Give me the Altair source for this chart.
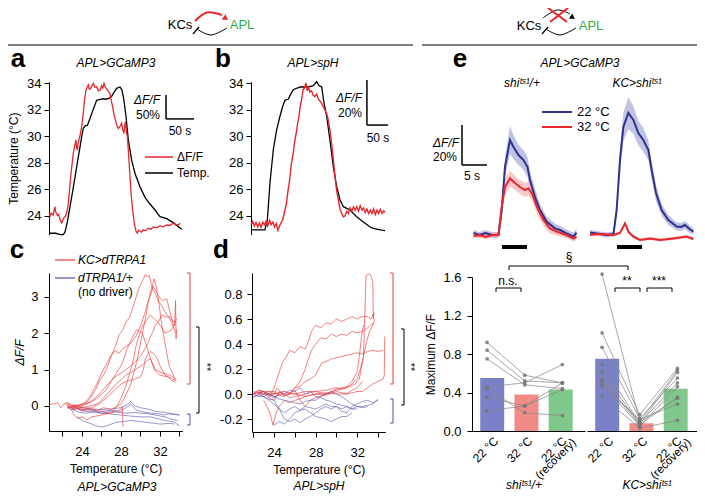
import altair as alt
import pandas as pd

FONT = "Liberation Sans"
RED = "#E8262B"
NAVY = "#2E3192"
TRACE_RED = "#F03C3C"
TRACE_BLUE = "#5353B3"
APL_GREEN = "#2DB04B"
BAR_COLORS = ["#7B81C6", "#F08B86", "#7FC78B"]

# ================= DATA =================
# panel a: time (s) -> temperature (°C) and APL>GCaMP3 ΔF/F
a_temp = [(0, 22.7), (12, 22.7), (20, 22.6), (25.6, 22.6), (28.6, 22.8), (33, 23.6), (37.5, 24.7), (42, 25.8),
          (46.4, 26.9), (51, 28.1), (55.4, 29.2), (58.5, 30.0), (61.3, 30.6), (65, 30.8), (68.5, 30.8), (72, 31.2),
          (76.2, 31.7), (80.5, 32.2), (85.1, 32.7), (95, 32.8), (103, 32.8), (107, 32.85), (111.9, 33.0),
          (116, 33.3), (120.8, 33.6), (126.8, 33.7), (130, 33.5), (132.7, 33.0), (135, 32.3), (137.5, 31.5),
          (141.7, 29.7), (147.6, 28.2), (153.6, 27.2), (162.5, 26.2), (171.4, 25.4), (180.4, 24.9),
          (189.3, 24.45), (198.2, 23.95), (210.1, 23.8), (222, 23.5), (233.9, 23.1), (236.9, 23.0)]
a_dff = [(0, 0.49), (2, 0.44), (4, 0.5), (6, 0.47), (7.7, 0.46), (9, 0.55), (10.7, 0.63), (12, 0.52), (13.7, 0.49),
         (15, 0.45), (17, 0.47), (18.5, 0.42), (20, 0.36), (22.6, 0.29), (24.5, 0.35), (26.8, 0.40), (29, 0.42),
         (31.5, 0.50), (33, 0.58), (34.5, 0.71), (36.5, 0.95), (38.7, 1.26), (41, 1.5), (43.5, 1.75), (46, 1.9),
         (48.2, 2.02), (49.5, 1.85), (50.6, 1.81), (52, 1.95), (54.2, 2.06), (56, 2.15), (58.3, 2.30), (60.5, 2.5),
         (62.5, 2.75), (64, 2.9), (66.1, 3.06), (68, 3.12), (70.2, 3.17), (72, 3.08), (74.4, 3.10), (76.5, 3.15),
         (79.2, 3.20), (82, 3.12), (85.1, 3.13), (88, 3.05), (91.1, 3.06), (94, 3.15), (96, 3.1), (98.2, 3.20),
         (100.5, 3.12), (103, 3.08), (106, 3.03), (108.9, 2.99), (111, 2.85), (113.7, 2.71), (116, 2.55),
         (117.9, 2.47), (120.5, 2.35), (123.8, 2.26), (126.5, 2.30), (129.8, 2.37), (131.5, 2.25), (133.9, 2.16),
         (135, 2.30), (136.3, 2.40), (138, 2.2), (139.9, 2.09), (142, 1.75), (144.6, 1.26), (147, 0.85),
         (149.4, 0.56), (151.5, 0.35), (153.6, 0.21), (155.5, 0.12), (157.7, 0.08), (160, 0.14), (162.5, 0.12),
         (165, 0.1), (168.5, 0.15), (172, 0.13), (177.4, 0.18), (182, 0.16), (186.3, 0.21), (192, 0.19),
         (198.2, 0.23), (204, 0.21), (210.1, 0.25), (216, 0.24), (222, 0.29), (226, 0.26), (231, 0.25),
         (233.9, 0.29)]

# panel b: time (s) -> temperature (°C) and APL>spH ΔF/F
b_temp = [(0, 22.95), (20, 22.95), (33, 22.95), (38.9, 23.7), (45.2, 26.5), (53.2, 29.0), (61.1, 30.5), (69, 31.5),
          (75, 32.2), (81, 32.7), (88.9, 32.8), (95, 33.2), (100.8, 33.5), (116.7, 33.7), (135, 33.7),
          (148.4, 33.8), (156.3, 34.1), (162, 33.8), (168.3, 33.7), (173.8, 32.5), (180.2, 31.5), (188, 29.7),
          (196, 27.7), (204, 26.2), (212, 25.2), (220, 24.7), (235.7, 24.45), (251.6, 23.95), (271.4, 23.45),
          (287.3, 23.1), (307, 22.95), (319, 22.9)]
b_dff = [(0, 0.05), (4, 0.065), (8, 0.045), (12, 0.06), (16, 0.04), (20, 0.058), (24, 0.038), (28, 0.062),
         (32, 0.05), (36, 0.066), (40, 0.045), (44, 0.07), (48, 0.05), (52, 0.062), (56, 0.04), (60, 0.055),
         (64, 0.025), (68, 0.045), (72, 0.06), (76, 0.075), (80, 0.11), (84, 0.14), (88, 0.2), (92, 0.25),
         (96, 0.32), (100, 0.36), (104, 0.42), (108, 0.46), (111, 0.5), (114, 0.53), (117, 0.575), (120, 0.6),
         (124, 0.65), (128, 0.66), (131, 0.68), (134, 0.645), (137, 0.665), (140, 0.64), (144, 0.645),
         (148, 0.625), (152, 0.62), (156, 0.63), (160, 0.61), (164, 0.6), (168, 0.59), (172, 0.575),
         (176, 0.56), (180, 0.545), (184, 0.515), (188, 0.47), (192, 0.41), (196, 0.34), (200, 0.265),
         (204, 0.2), (208, 0.16), (212, 0.12), (216, 0.1), (220, 0.085), (224, 0.09), (228, 0.11), (232, 0.1),
         (236, 0.125), (240, 0.11), (244, 0.13), (248, 0.115), (252, 0.13), (256, 0.11), (260, 0.135),
         (264, 0.115), (268, 0.125), (272, 0.105), (276, 0.12), (280, 0.1), (284, 0.115), (288, 0.1),
         (292, 0.12), (296, 0.095), (300, 0.115), (304, 0.1), (308, 0.118), (312, 0.1), (316, 0.112),
         (319, 0.105)]

# panel c: temperature (°C) -> ΔF/F, APL>GCaMP3
c_red_1 = [(22.5, 0.0), (23.0, -0.06), (23.5, 0.02), (24.0, 0.05), (24.5, 0.1), (25.0, 0.28), (25.4, 0.45),
           (25.8, 0.7), (26.2, 0.85), (26.5, 1.0), (26.9, 1.3), (27.2, 1.5), (27.5, 1.7), (27.8, 1.95),
           (28.2, 2.1), (28.5, 2.3), (28.9, 2.45), (29.2, 2.7), (29.5, 2.95), (29.8, 3.2), (30.1, 3.4),
           (30.3, 3.5), (30.5, 3.62), (30.7, 3.55), (30.9, 3.6), (31.1, 3.35), (31.3, 3.2), (31.6, 3.05),
           (31.8, 2.9), (32.2, 2.75), (32.5, 2.6), (32.9, 2.45), (33.2, 2.3), (33.6, 2.0)]
c_red_2 = [(22.3, 0.05), (22.8, -0.04), (23.3, 0.0), (23.8, -0.06), (24.2, 0.08), (24.7, 0.2), (25.1, 0.4),
           (25.6, 0.65), (26.0, 0.9), (26.5, 1.15), (27.0, 1.4), (27.4, 1.52), (27.8, 1.45), (28.3, 1.6),
           (28.9, 1.7), (29.5, 1.9), (30.0, 2.2), (30.5, 2.6), (30.8, 2.9), (31.1, 3.1), (31.3, 3.3),
           (31.6, 3.15), (31.9, 3.0), (32.3, 2.9), (32.7, 2.95), (33.0, 2.6), (33.3, 2.3), (33.5, 2.2),
           (33.6, 2.9), (33.65, 1.85), (33.7, 2.1)]
c_red_3 = [(22.5, -0.05), (23.2, 0.03), (24.0, 0.0), (24.6, 0.08), (25.0, 0.15), (25.5, 0.25), (26.0, 0.4),
           (26.5, 0.55), (27.0, 0.7), (27.5, 0.82), (28.0, 0.9), (28.5, 1.0), (29.0, 1.1), (29.4, 1.2),
           (29.8, 1.3), (30.2, 1.45), (30.5, 1.6), (30.8, 1.75), (31.0, 1.9), (31.3, 2.05), (31.5, 2.2),
           (31.9, 2.35), (32.2, 2.5), (32.6, 2.45), (33.0, 2.45), (33.3, 2.35), (33.6, 2.3)]
c_red_4 = [(22.5, 0.0), (23.2, -0.08), (24.0, -0.05), (24.8, 0.0), (25.5, 0.05), (26.0, 0.15), (26.5, 0.3),
           (27.0, 0.45), (27.5, 0.6), (28.0, 0.72), (28.5, 0.85), (29.0, 0.92), (29.5, 1.0), (29.9, 1.08),
           (30.3, 1.15), (30.7, 1.25), (31.0, 1.3), (31.3, 1.15), (31.5, 1.0), (31.9, 0.95), (32.3, 0.9),
           (32.7, 0.88), (33.0, 0.85), (33.3, 0.8), (33.6, 0.75)]
c_red_5 = [(22.8, -0.1), (23.4, -0.05), (24.0, -0.15), (24.8, -0.08), (25.5, -0.12), (26.2, -0.05),
           (27.0, -0.1), (27.6, 0.0), (28.0, 0.05), (28.5, 0.3), (29.0, 0.6), (29.3, 0.9), (29.6, 1.2),
           (29.9, 1.6), (30.2, 2.0), (30.5, 2.4), (30.7, 2.7), (30.9, 3.0), (31.1, 3.2), (31.4, 3.5),
           (31.6, 3.3), (31.8, 3.0), (32.0, 2.6), (32.2, 2.2), (32.5, 1.75), (32.8, 1.3), (33.0, 1.05),
           (33.3, 0.9), (33.6, 0.7)]
c_red_6 = [(22.5, 0.05), (23.0, -0.02), (23.5, 0.0), (24.2, -0.06), (25.0, -0.05), (25.5, 0.02), (26.0, 0.1),
           (26.5, 0.22), (27.0, 0.35), (27.5, 0.48), (28.0, 0.6), (28.4, 0.66), (28.8, 0.7), (29.2, 0.72),
           (29.5, 0.75), (30.0, 0.8), (30.3, 1.0), (30.5, 1.3), (30.8, 1.45), (31.0, 1.5), (31.3, 1.45),
           (31.5, 1.4), (31.8, 1.25), (32.0, 1.1), (32.3, 0.95), (32.5, 0.85), (32.9, 0.8), (33.2, 0.75),
           (33.5, 0.72), (33.7, 0.7)]
c_red_7 = [(20.6, 0.0), (20.9, 0.06), (21.2, 0.05), (21.5, 0.1), (21.8, -0.05), (22.2, 0.06), (22.5, 0.08),
           (23.0, 0.0), (23.5, -0.05), (24.0, -0.1), (24.5, -0.08), (25.0, -0.1), (25.5, -0.14), (26.0, -0.15),
           (26.5, -0.18), (27.0, -0.2), (27.5, -0.05), (28.0, 0.2), (28.5, 0.55), (29.0, 1.0), (29.3, 1.3),
           (29.5, 1.6), (29.8, 1.9), (30.2, 2.2), (30.6, 2.35), (31.0, 2.5), (31.4, 2.4), (31.8, 2.3),
           (32.2, 2.15), (32.5, 2.0), (32.9, 2.05), (33.2, 2.1), (33.5, 2.25), (33.7, 2.4)]
c_red_8 = [(22.8, -0.05), (23.2, -0.25), (23.6, -0.35), (24.0, -0.3), (24.5, -0.38), (25.0, -0.3),
           (25.5, -0.28), (26.0, -0.25), (26.5, -0.22), (27.0, -0.2), (27.5, -0.15), (28.0, -0.1),
           (28.15, -0.02), (28.2, -0.58)]
c_red_9 = [(22.4, 0.1), (22.9, 0.02), (23.5, 0.0), (24.0, 0.06), (24.5, 0.05), (25.0, 0.12), (25.5, 0.2),
           (26.0, 0.32), (26.5, 0.45), (27.0, 0.68), (27.5, 0.9), (28.0, 1.1), (28.3, 1.3), (28.6, 1.55),
           (29.0, 1.8), (29.3, 1.95), (29.6, 2.1), (29.9, 2.05), (30.2, 2.0), (30.5, 1.75), (30.8, 1.5),
           (31.1, 1.25), (31.4, 1.0), (31.7, 0.92), (32.0, 0.85), (32.4, 0.82), (32.8, 0.8), (33.2, 0.7),
           (33.6, 0.65)]
c_blue_1 = [(22.5, -0.05), (23.0, -0.1), (23.5, -0.08), (24.0, -0.1), (25.0, -0.12), (26.0, -0.15),
            (27.0, -0.12), (28.0, -0.15), (28.5, -0.05), (29.0, 0.05), (29.5, -0.1), (30.0, -0.15),
            (31.0, -0.2), (32.0, -0.22), (32.5, -0.25), (33.0, -0.22), (34.0, -0.25)]
c_blue_2 = [(23.0, -0.1), (23.8, -0.18), (24.5, -0.2), (25.2, -0.15), (26.0, -0.2), (27.0, -0.22),
            (28.0, -0.25), (29.0, -0.28), (30.0, -0.3), (31.0, -0.3), (31.8, -0.35), (32.5, -0.4),
            (33.0, -0.42), (33.5, -0.45), (34.0, -0.55)]
c_blue_3 = [(23.5, -0.3), (24.0, -0.4), (24.5, -0.45), (25.0, -0.5), (25.5, -0.55), (26.0, -0.58),
            (26.5, -0.55), (27.0, -0.5), (27.5, -0.45), (28.5, -0.42), (29.0, -0.4), (30.0, -0.43),
            (30.5, -0.45), (31.5, -0.48), (32.0, -0.5), (33.0, -0.48), (33.5, -0.5)]
c_blue_4 = [(22.5, -0.05), (23.5, -0.02), (24.0, -0.05), (25.0, -0.08), (26.0, -0.1), (27.0, -0.08),
            (28.0, -0.05), (28.7, 0.05), (29.0, 0.12), (29.4, 0.0), (30.0, -0.05), (31.0, -0.1),
            (31.5, -0.15), (32.5, -0.18), (33.0, -0.2), (34.0, -0.25)]
c_blue_5 = [(23.0, 0.0), (23.7, -0.1), (24.5, -0.15), (25.3, -0.18), (26.0, -0.2), (27.0, -0.15),
            (27.8, -0.18), (28.5, -0.2), (29.5, -0.18), (30.0, -0.2), (31.0, -0.22), (31.5, -0.25),
            (32.5, -0.3), (33.0, -0.35), (33.8, -0.4)]

# panel d: temperature (°C) -> ΔF/F, APL>spH
d_red_1 = [(22.0, 0.0), (22.5, 0.03), (23.0, 0.02), (23.5, -0.03), (24.0, -0.05), (24.5, 0.02), (25.0, 0.0),
           (25.5, -0.03), (26.0, -0.02), (27.0, 0.0), (28.0, 0.02), (29.0, 0.0), (30.0, 0.03), (31.0, 0.05),
           (31.8, 0.08), (32.2, 0.12), (32.6, 0.3), (32.75, 0.7), (32.85, 0.95), (33.1, 0.96), (33.3, 0.95),
           (33.5, 0.9), (33.55, 0.6), (33.6, 0.65)]
d_red_2 = [(22.0, 0.0), (22.5, 0.03), (23.0, 0.02), (23.6, -0.02), (24.0, 0.05), (24.4, 0.15), (24.8, 0.25),
           (25.2, 0.3), (25.5, 0.35), (26.0, 0.33), (26.5, 0.38), (27.0, 0.36), (27.3, 0.42), (27.6, 0.5),
           (28.0, 0.55), (28.5, 0.53), (29.0, 0.57), (29.5, 0.56), (30.0, 0.6), (30.5, 0.58), (31.0, 0.6),
           (31.5, 0.62), (32.0, 0.6), (32.5, 0.62), (33.0, 0.62), (33.3, 0.6), (33.6, 0.65)]
d_red_3 = [(22.0, 0.0), (23.0, 0.02), (24.0, 0.02), (24.8, -0.02), (25.5, 0.0), (26.0, 0.05), (26.5, 0.1),
           (27.0, 0.2), (27.3, 0.28), (27.6, 0.35), (28.0, 0.4), (28.5, 0.45), (29.0, 0.44), (29.5, 0.48),
           (30.0, 0.46), (30.5, 0.48), (31.0, 0.47), (31.5, 0.5), (32.0, 0.49), (32.5, 0.5), (33.0, 0.53),
           (33.3, 0.55), (33.6, 0.57)]
d_red_4 = [(22.0, -0.02), (23.0, 0.0), (24.0, 0.0), (25.0, 0.02), (25.5, 0.0), (26.0, 0.05), (26.5, 0.06),
           (27.0, 0.1), (27.5, 0.12), (28.0, 0.15), (28.3, 0.2), (28.6, 0.25), (29.0, 0.26), (29.5, 0.28),
           (30.0, 0.29), (30.5, 0.3), (31.0, 0.31), (31.5, 0.32), (32.0, 0.33), (32.5, 0.32), (33.0, 0.34),
           (33.5, 0.35), (34.0, 0.34), (34.5, 0.35)]
d_red_5 = [(22.0, 0.0), (23.0, 0.02), (24.0, -0.02), (25.0, 0.0), (26.0, 0.0), (27.0, 0.02), (28.0, 0.02),
           (29.0, 0.03), (30.0, 0.05), (30.5, 0.04), (31.0, 0.05), (31.5, 0.08), (32.0, 0.12), (32.3, 0.2),
           (32.6, 0.3), (32.9, 0.42), (33.2, 0.5), (33.5, 0.55), (33.7, 0.6)]
d_red_6 = [(22.0, 0.02), (23.0, 0.0), (24.0, 0.0), (25.0, 0.02), (26.0, 0.0), (27.0, -0.02), (28.0, 0.0),
           (29.0, 0.01), (30.0, 0.0), (31.0, 0.0), (31.5, 0.01), (32.0, 0.02), (32.5, 0.02), (33.0, 0.05),
           (33.5, 0.08), (34.0, 0.1), (34.5, 0.12), (34.6, 0.15), (34.65, 0.46)]
d_red_7 = [(23.0, -0.05), (23.3, -0.1), (23.6, -0.15), (23.9, -0.25), (24.2, -0.15), (24.5, -0.1),
           (25.0, -0.05), (25.5, -0.07), (26.0, -0.05), (26.5, -0.04), (27.0, -0.02), (28.0, 0.0),
           (29.0, -0.01), (30.0, 0.02), (31.0, 0.0), (31.5, 0.03), (32.0, 0.05), (32.5, 0.1)]
d_red_8 = [(22.5, 0.02), (23.0, 0.0), (23.5, 0.02), (24.0, 0.0), (24.3, 0.05), (25.0, -0.02), (26.0, 0.03),
           (26.5, -0.05), (27.0, -0.1), (27.5, -0.05), (28.0, -0.03), (29.0, 0.0), (30.0, 0.04),
           (31.0, 0.06), (31.5, 0.1), (32.0, 0.18), (32.2, 0.3), (32.4, 0.45), (32.6, 0.55)]
d_blue_1 = [(22.0, 0.0), (22.5, -0.02), (23.0, -0.02), (23.5, -0.04), (24.0, -0.05), (24.5, -0.12),
            (25.0, -0.2), (25.5, -0.22), (26.0, -0.2), (26.5, -0.23), (27.0, -0.2), (27.5, -0.18),
            (28.0, -0.15), (28.5, -0.12), (29.0, -0.1), (29.5, -0.12), (30.0, -0.1), (30.5, -0.14),
            (31.0, -0.15), (31.5, -0.1), (32.0, -0.08), (32.5, -0.06), (33.0, -0.05), (33.5, -0.07),
            (34.0, -0.05)]
d_blue_2 = [(22.5, 0.0), (23.0, 0.02), (23.5, -0.01), (24.0, -0.03), (24.5, 0.0), (25.0, 0.0), (25.5, 0.03),
            (26.0, 0.02), (26.5, 0.05), (27.0, 0.0), (27.5, 0.02), (28.0, -0.02), (28.5, -0.03),
            (29.0, -0.05), (29.5, -0.06), (30.0, -0.08), (30.5, -0.09), (31.0, -0.1), (31.5, -0.12),
            (32.0, -0.1), (32.5, -0.11), (33.0, -0.1)]
d_blue_3 = [(23.0, -0.02), (23.5, -0.05), (24.0, -0.08), (24.5, -0.12), (25.0, -0.15), (25.5, -0.12),
            (26.0, -0.1), (26.5, -0.13), (27.0, -0.12), (27.5, -0.15), (28.0, -0.18), (28.5, -0.19),
            (29.0, -0.2), (29.5, -0.22), (30.0, -0.2), (30.5, -0.18), (31.0, -0.18), (31.5, -0.15)]
d_blue_4 = [(22.0, -0.03), (22.5, 0.0), (23.0, -0.02), (23.5, 0.0), (24.0, -0.02), (24.5, -0.04),
            (25.0, -0.05), (25.5, -0.06), (26.0, -0.07), (26.5, -0.08), (27.0, -0.06), (27.5, -0.05),
            (28.0, -0.05), (28.5, -0.02), (29.0, 0.0), (29.5, 0.02), (30.0, 0.0), (30.5, -0.02),
            (31.0, -0.05), (31.5, -0.08), (32.0, -0.1), (32.5, -0.1), (33.0, -0.09), (33.5, -0.08),
            (34.0, -0.04)]
d_blue_5 = [(24.0, -0.25), (24.5, -0.22), (25.0, -0.24), (25.5, -0.2), (26.0, -0.15), (26.5, -0.13),
            (27.0, -0.1), (27.5, -0.11), (28.0, -0.12), (28.5, -0.1), (29.0, -0.08), (29.5, -0.1),
            (30.0, -0.1), (30.5, -0.12), (31.0, -0.1), (31.5, -0.12), (32.0, -0.12)]

# panel e traces: time from odour onset (s), mean ΔF/F, s.e.m.
e_shi_22 = [(-5.7, 0.01, 0.015), (-4.5, 0.0, 0.015), (-3.3, 0.01, 0.015), (-2.0, 0.0, 0.015), (-0.7, 0.0, 0.015),
            (-0.07, 0.12, 0.03), (0.6, 0.34, 0.05), (1.6, 0.475, 0.07), (2.3, 0.44, 0.06), (3.3, 0.40, 0.05),
            (4.3, 0.375, 0.05), (5.1, 0.34, 0.05), (5.6, 0.275, 0.045), (6.6, 0.19, 0.04), (7.6, 0.125, 0.03),
            (8.9, 0.067, 0.025), (10.6, 0.033, 0.025), (11.6, 0.025, 0.02), (12.9, 0.008, 0.02),
            (14.3, -0.008, 0.02), (14.9, 0.012, 0.02)]
e_shi_32 = [(-5.7, -0.005, 0.012), (-4.5, 0.0, 0.012), (-3.3, -0.01, 0.012), (-2.0, 0.0, 0.012),
            (-0.7, 0.0, 0.012), (-0.07, 0.14, 0.03), (0.6, 0.24, 0.04), (1.6, 0.283, 0.04), (2.6, 0.26, 0.035),
            (3.6, 0.24, 0.035), (4.6, 0.225, 0.035), (5.3, 0.233, 0.035), (6.0, 0.208, 0.035), (7.0, 0.14, 0.035),
            (8.3, 0.075, 0.03), (9.6, 0.033, 0.025), (11.0, 0.017, 0.02), (12.9, 0.0, 0.015),
            (14.3, -0.017, 0.015), (14.9, -0.01, 0.015)]
e_kc_22 = [(-5.4, 0.012, 0.012), (-4.0, 0.008, 0.012), (-2.1, 0.0, 0.012), (-0.7, 0.005, 0.012),
           (-0.07, 0.125, 0.03), (0.6, 0.375, 0.06), (1.27, 0.54, 0.07), (2.27, 0.61, 0.08), (3.27, 0.575, 0.07),
           (4.27, 0.51, 0.06), (5.27, 0.475, 0.06), (6.27, 0.425, 0.05), (6.93, 0.325, 0.045), (7.8, 0.21, 0.04),
           (8.93, 0.125, 0.03), (10.27, 0.075, 0.025), (11.93, 0.042, 0.02), (12.8, 0.04, 0.02),
           (13.6, 0.05, 0.02), (14.5, 0.03, 0.02), (15.27, 0.017, 0.015)]
e_kc_32 = [(-5.4, 0.0, 0.008), (-4.0, 0.005, 0.008), (-2.1, 0.002, 0.008), (-0.7, 0.0, 0.008), (0.6, 0.01, 0.008),
           (1.6, 0.058, 0.01), (2.27, 0.017, 0.008), (3.27, -0.008, 0.008), (4.6, -0.025, 0.008),
           (6.6, -0.017, 0.008), (8.6, -0.025, 0.008), (11.27, -0.017, 0.008), (13.93, -0.008, 0.008),
           (15.27, -0.02, 0.008)]

# panel e bars: maximum ΔF/F
conditions = ["22", "32", "rec"]
condition_labels = ["22 °C", "32 °C", "22 °C"]
shi_means = [0.55, 0.38, 0.43]
kc_means = [0.75, 0.08, 0.44]
shi_flies = [[0.92, 0.58, 0.50], [0.84, 0.52, 0.50], [0.75, 0.48, 0.44], [0.46, 0.50, 0.69],
             [0.44, 0.19, 0.16], [0.35, 0.26, 0.43], [0.21, 0.26, 0.50]]
kc_flies = [[1.63, 0.10, 0.63], [1.02, 0.17, 0.65], [0.87, 0.13, 0.55], [0.69, 0.08, 0.50], [0.61, 0.07, 0.61],
            [0.54, 0.06, 0.35], [0.52, 0.09, 0.34], [0.49, 0.05, 0.46], [0.47, 0.12, 0.28], [0.36, 0.03, 0.11]]

# scale-bar sizes (data units)
a_bar_s, a_bar_dff = 50, 0.5
b_bar_s, b_bar_dff = 50, 0.2
e_bar_s, e_bar_dff = 5, 0.2


# ================= helpers =================
def sc(d0, d1, p0, p1):
    """linear scale, domain -> page pixel positions (page has an 8px margin)"""
    return alt.Scale(domain=[d0, d1], range=[p0 - 8, p1 - 8], zero=False, nice=False)


def band(p0, p1):
    return alt.Scale(domain=conditions, range=[p0 - 8, p1 - 8], paddingInner=0.3, paddingOuter=0.3, align=0.4)


CX = sc(0, 705, 0, 705)
CY = sc(0, 502, 0, 502)


def tdf(named):
    rows = []
    for name, pairs in named:
        for i, p in enumerate(pairs):
            rows.append({"trace": name, "i": i, "x": p[0], "y": p[1]})
    return pd.DataFrame(rows)


def lines(df, xs, ys, color, width, opacity=1.0, xaxis=None, yaxis=None):
    return alt.Chart(df).mark_line(color=color, strokeWidth=width, opacity=opacity).encode(
        x=alt.X("x:Q", scale=xs, axis=xaxis),
        y=alt.Y("y:Q", scale=ys, axis=yaxis),
        detail="trace:N", order="i:Q")


def hbar(x0, x1, y, xs, ys, color="black", w=1.5):
    df = pd.DataFrame({"x": [x0], "x2": [x1], "y": [y]})
    return alt.Chart(df).mark_rule(color=color, strokeWidth=w).encode(
        x=alt.X("x:Q", scale=xs, axis=None), x2="x2:Q", y=alt.Y("y:Q", scale=ys, axis=None))


def vbar(x, y0, y1, xs, ys, color="black", w=1.5):
    df = pd.DataFrame({"x": [x], "y": [y0], "y2": [y1]})
    return alt.Chart(df).mark_rule(color=color, strokeWidth=w).encode(
        x=alt.X("x:Q", scale=xs, axis=None), y=alt.Y("y:Q", scale=ys, axis=None), y2="y2:Q")


def ctext(rows, size=12, style="normal", weight="normal", color="black", align="center",
          baseline="middle", angle=0):
    df = pd.DataFrame(rows, columns=["x", "y", "t"])
    kw = dict(font=FONT, fontSize=size, fontStyle=style, fontWeight=weight, color=color,
              align=align, baseline=baseline)
    if angle:
        kw["angle"] = angle
    return alt.Chart(df).mark_text(**kw).encode(
        x=alt.X("x:Q", scale=CX, axis=None), y=alt.Y("y:Q", scale=CY, axis=None), text="t:N")


def csegs(rows, color="black", w=1.0, opacity=1.0):
    df = pd.DataFrame(rows, columns=["x", "y", "x2", "y2"])
    return alt.Chart(df).mark_rule(color=color, strokeWidth=w, opacity=opacity).encode(
        x=alt.X("x:Q", scale=CX, axis=None), y=alt.Y("y:Q", scale=CY, axis=None), x2="x2:Q", y2="y2:Q")


def ccurve(pts, color, w):
    df = pd.DataFrame([(x, y, i) for i, (x, y) in enumerate(pts)], columns=["x", "y", "i"])
    return alt.Chart(df).mark_line(color=color, strokeWidth=w, interpolate="cardinal").encode(
        x=alt.X("x:Q", scale=CX, axis=None), y=alt.Y("y:Q", scale=CY, axis=None), order="i:Q")


def carrow(x, y, angle, color, size=30):
    df = pd.DataFrame({"x": [x], "y": [y]})
    return alt.Chart(df).mark_point(shape="triangle", filled=True, size=size, angle=angle,
                                    color=color, opacity=1).encode(
        x=alt.X("x:Q", scale=CX, axis=None), y=alt.Y("y:Q", scale=CY, axis=None))


def bracket_r(x, y0, y1, tick=3):
    return [(x, y0, x, y1), (x - tick, y0, x, y0), (x - tick, y1, x, y1)]


def bracket_d(x0, x1, y, tick=4):
    return [(x0, y, x1, y), (x0, y, x0, y + tick), (x1, y, x1, y + tick)]


L = []

# ================= panel a =================
XA = sc(0, 240, 49, 183.4)
YA_T = sc(22.6, 34.1, 234.6, 81.7)
YA_F = sc(0, 3.2, 237, 83.4)
ax_a = alt.Axis(orient="left", offset=-41, values=[24, 26, 28, 30, 32, 34], format="d",
                title="Temperature (°C)", labelPadding=3, titlePadding=6)
L.append(lines(tdf([("T", a_temp)]), XA, YA_T, "black", 1.3, yaxis=ax_a))
L.append(lines(tdf([("F", a_dff)]), XA, YA_F, RED, 1.3))
L.append(hbar(209, 209 + a_bar_s, 2.46, XA, YA_F))
L.append(vbar(209, 2.46, 2.46 + a_bar_dff, XA, YA_F))

# ================= panel b =================
XB = sc(0, 320, 251, 385.4)
YB_T = sc(22.6, 34.1, 234.6, 81.7)
YB_F = sc(0, 0.7, 236, 78.5)
ax_b = alt.Axis(orient="left", offset=-243, values=[24, 26, 28, 30, 32, 34], format="d",
                title=None, labelPadding=3)
L.append(lines(tdf([("T", b_temp)]), XB, YB_T, "black", 1.3, yaxis=ax_b))
L.append(lines(tdf([("F", b_dff)]), XB, YB_F, RED, 1.4))
L.append(hbar(276, 276 + b_bar_s, 0.493, XB, YB_F))
L.append(vbar(276, 0.493, 0.493 + b_bar_dff, XB, YB_F))

# ================= panel c =================
XC = sc(20.6, 34.3, 48.85, 182.4)
YC = sc(-0.69, 3.66, 431, 273)
ax_cx = alt.Axis(orient="bottom", offset=-63, values=[22, 24, 26, 28, 30, 32, 34], format="d",
                 labelExpr="datum.value % 4 == 0 ? datum.label : ''", title="Temperature (°C)",
                 labelPadding=9, titlePadding=5)
ax_cy = alt.Axis(orient="left", offset=-41, values=[0, 1, 2, 3], format="d", title="ΔF/F",
                 titleFontStyle="italic", labelPadding=6, titlePadding=4)
c_red = tdf([("r1", c_red_1), ("r2", c_red_2), ("r3", c_red_3), ("r4", c_red_4), ("r5", c_red_5),
             ("r6", c_red_6), ("r7", c_red_7), ("r8", c_red_8), ("r9", c_red_9)])
c_blue = tdf([("b1", c_blue_1), ("b2", c_blue_2), ("b3", c_blue_3), ("b4", c_blue_4), ("b5", c_blue_5)])
L.append(lines(c_blue, XC, YC, TRACE_BLUE, 1.0, opacity=0.6, xaxis=ax_cx, yaxis=ax_cy))
L.append(lines(c_red, XC, YC, TRACE_RED, 1.0, opacity=0.65))

# ================= panel d =================
XD = sc(21.9, 34.7, 252.2, 385.3)
YD = sc(-0.304, 0.968, 432, 273)
ax_dx = alt.Axis(orient="bottom", offset=-62, values=[22, 24, 26, 28, 30, 32, 34], format="d",
                 labelExpr="datum.value % 4 == 0 ? datum.label : ''", title="Temperature (°C)",
                 labelPadding=9, titlePadding=5)
ax_dy = alt.Axis(orient="left", offset=-244, values=[-0.2, 0, 0.2, 0.4, 0.6, 0.8], title=None,
                 labelExpr="datum.value < 0 ? '-' + format(-datum.value, '.1f') : format(datum.value, '.1f')",
                 labelPadding=5)
d_red = tdf([("r1", d_red_1), ("r2", d_red_2), ("r3", d_red_3), ("r4", d_red_4), ("r5", d_red_5),
             ("r6", d_red_6), ("r7", d_red_7), ("r8", d_red_8)])
d_blue = tdf([("b1", d_blue_1), ("b2", d_blue_2), ("b3", d_blue_3), ("b4", d_blue_4), ("b5", d_blue_5)])
L.append(lines(d_red, XD, YD, TRACE_RED, 1.0, opacity=0.65, xaxis=ax_dx, yaxis=ax_dy))
L.append(lines(d_blue, XD, YD, TRACE_BLUE, 1.0, opacity=0.6))

# ================= panel e traces =================
XE1 = sc(-8, 15, 462, 577)
XE2 = sc(-6, 16, 587, 697)
YE = sc(-0.1, 0.7, 255, 95)


def edf(rows):
    return pd.DataFrame({"trace": "m", "i": range(len(rows)), "x": [r[0] for r in rows],
                         "y": [r[1] for r in rows], "lo": [r[1] - r[2] for r in rows],
                         "hi": [r[1] + r[2] for r in rows]})


def eband(rows, xs, color, opacity):
    return alt.Chart(edf(rows)).mark_area(color=color, opacity=opacity).encode(
        x=alt.X("x:Q", scale=xs, axis=None), y=alt.Y("lo:Q", scale=YE, axis=None), y2="hi:Q")


for rows, xs in [(e_shi_22, XE1), (e_kc_22, XE2)]:
    L.append(eband(rows, xs, "#9FA3D6", 0.65))
for rows, xs in [(e_shi_32, XE1), (e_kc_32, XE2)]:
    L.append(eband(rows, xs, "#F59A9A", 0.55))
L.append(lines(edf(e_shi_22), XE1, YE, NAVY, 2.0))
L.append(lines(edf(e_kc_22), XE2, YE, NAVY, 2.0))
L.append(lines(edf(e_shi_32), XE1, YE, RED, 2.0))
L.append(lines(edf(e_kc_32), XE2, YE, RED, 2.0))
L.append(hbar(0, 5, -0.06, XE1, YE, w=4))
L.append(hbar(0, 5, -0.06, XE2, YE, w=4))
L.append(hbar(-8, -8 + e_bar_s, 0.35, XE1, YE))
L.append(vbar(-8, 0.35, 0.35 + e_bar_dff, XE1, YE))

# ================= panel e bars =================
XBAR1 = band(472, 585)
XBAR2 = band(587, 700)
YBAR = sc(0, 1.6, 431, 277)
ax_bar_y = alt.Axis(orient="left", offset=-464, values=[0, 0.4, 0.8, 1.2, 1.6], format=".1f",
                    title="Maximum ΔF/F", labelPadding=6, titlePadding=5)


def xax():
    return alt.Axis(orient="bottom", offset=-63, ticks=False, labels=False, title=None)


for means, flies, xs, yaxis in [(shi_means, shi_flies, XBAR1, ax_bar_y), (kc_means, kc_flies, XBAR2, None)]:
    bdf = pd.DataFrame({"cond": conditions, "val": means, "col": BAR_COLORS})
    L.append(alt.Chart(bdf).mark_bar().encode(
        x=alt.X("cond:N", scale=xs, axis=xax()),
        y=alt.Y("val:Q", scale=YBAR, axis=yaxis),
        color=alt.Color("col:N", scale=None)))
    rows = []
    for f, vals in enumerate(flies):
        for k, v in enumerate(vals):
            rows.append({"fly": f, "k": k, "cond": conditions[k], "val": v})
    fdf = pd.DataFrame(rows)
    L.append(alt.Chart(fdf).mark_line(color="#8a8a8a", strokeWidth=1, opacity=0.75).encode(
        x=alt.X("cond:N", scale=xs, axis=None), y=alt.Y("val:Q", scale=YBAR, axis=None),
        detail="fly:N", order="k:Q"))
    L.append(alt.Chart(fdf).mark_point(filled=True, size=14, color="#777777", opacity=0.85).encode(
        x=alt.X("cond:N", scale=xs, axis=None), y=alt.Y("val:Q", scale=YBAR, axis=None)))

# ================= annotations (page pixel coordinates) =================
# header diagrams and separators
L.append(csegs([(8, 45, 413, 45), (422, 45, 698, 45)], w=1.2))
L.append(ctext([(180, 25, "KCs"), (529, 26, "KCs")], size=13))
L.append(ctext([(242, 25, "APL"), (591, 26, "APL")], size=13, color=APL_GREEN))
L.append(ccurve([(195, 21), (207, 12.5), (222, 15)], RED, 2))
L.append(carrow(225, 18, 125, RED, 40))
L.append(ccurve([(197, 29), (211, 35), (227, 28)], "black", 1))
L.append(csegs([(193, 34, 199, 27), (542, 34, 548, 27)], w=1.2))
L.append(ccurve([(543, 18), (557, 10), (570, 14)], "black", 1))
L.append(carrow(572, 17, 125, "black", 35))
L.append(ccurve([(546, 29), (560, 35), (576, 28)], "black", 1))
L.append(csegs([(548, 8, 567, 22), (550, 22, 568, 8)], color=RED, w=2))

# panel letters
L.append(ctext([(18, 67, "a"), (223, 67, "b"), (17, 258, "c"), (221, 258, "d"), (460, 67, "e")],
               size=26, weight="bold", baseline="alphabetic"))
# genotype titles
L.append(ctext([(116, 63, "APL>GCaMP3"), (313, 63, "APL>spH"), (117, 487, "APL>GCaMP3"),
                (319, 486, "APL>spH"), (580, 63, "APL>GCaMP3"), (522, 83, "shiᵗˢ¹/+"),
                (637, 83, "KC>shiᵗˢ¹"), (524, 485, "shiᵗˢ¹/+"), (647, 485, "KC>shiᵗˢ¹")],
               size=12, style="italic"))

# panel a/b/e scale bar labels and panel a legend
L.append(ctext([(160, 100, "ΔF/F"), (362, 98, "ΔF/F"), (459, 143, "ΔF/F")], size=12, style="italic",
               align="right"))
L.append(ctext([(160, 115, "50%"), (362, 113, "20%"), (457, 157, "20%")], size=12, align="right"))
L.append(ctext([(180, 131, "50 s"), (378, 138, "50 s"), (472, 176, "5 s")], size=12))
L.append(csegs([(145, 157, 173, 157)], color=RED, w=1.5))
L.append(csegs([(145, 173, 173, 173)], color="black", w=1.5))
L.append(ctext([(177, 157, "ΔF/F"), (177, 173, "Temp.")], size=12, align="left"))

# panel c legend
L.append(csegs([(55, 260, 75, 260)], color=TRACE_RED, w=1.5, opacity=0.8))
L.append(csegs([(55, 278, 75, 278)], color=TRACE_BLUE, w=1.5, opacity=0.8))
L.append(ctext([(78, 260, "KC>dTRPA1"), (78, 278, "dTRPA1/+")], size=12, style="italic", align="left"))
L.append(ctext([(78, 292, "(no driver)")], size=12, align="left"))

# significance brackets c / d
L.append(csegs(bracket_r(190, 273, 384) + bracket_r(393, 273, 384), color="#E04545", w=1))
L.append(csegs(bracket_r(190, 414, 425) + bracket_r(393, 399, 423), color="#5050A8", w=1))
L.append(csegs(bracket_r(199, 327, 413) + bracket_r(404, 329, 405), w=1))
L.append(ctext([(206, 367, "**"), (410, 367, "**")], size=11, angle=90))

# panel e legend
L.append(csegs([(542, 112, 572, 112)], color=NAVY, w=2))
L.append(csegs([(542, 127, 572, 127)], color=RED, w=2))
L.append(ctext([(577, 112, "22 °C"), (577, 127, "32 °C")], size=13, align="left"))

# bar chart brackets
L.append(csegs(bracket_d(496, 521, 288) + bracket_d(615, 640, 288) + bracket_d(647, 672, 288)
               + bracket_d(509, 628, 266), w=1))
L.append(ctext([(508, 281, "n.s."), (627, 281, "**"), (659, 281, "***"), (569, 257, "§")], size=12))

# rotated condition labels
centres = [492.2, 526.4, 560.6, 607.2, 641.4, 675.6]
lab_rows = [(c + 4, 439, condition_labels[i % 3]) for i, c in enumerate(centres)]
L.append(ctext(lab_rows, size=12, align="right", angle=315))
L.append(ctext([(560.6 + 14, 441, "(recovery)"), (675.6 + 14, 441, "(recovery)")], size=11.5,
               align="right", angle=315))

chart = alt.layer(*L).resolve_scale(x="independent", y="independent").properties(
    width=689, height=486, padding=0, autosize=alt.AutoSizeParams(type="none")
).configure_view(stroke=None).configure_axis(
    labelFont=FONT, titleFont=FONT, labelFontSize=13, titleFontSize=12, titleFontWeight="normal",
    labelColor="black", titleColor="black", tickColor="black", domainColor="black",
    tickSize=5, grid=False, labelOverlap=False
)

chart.save("out.html", embed_options={"renderer": "svg", "actions": False})
